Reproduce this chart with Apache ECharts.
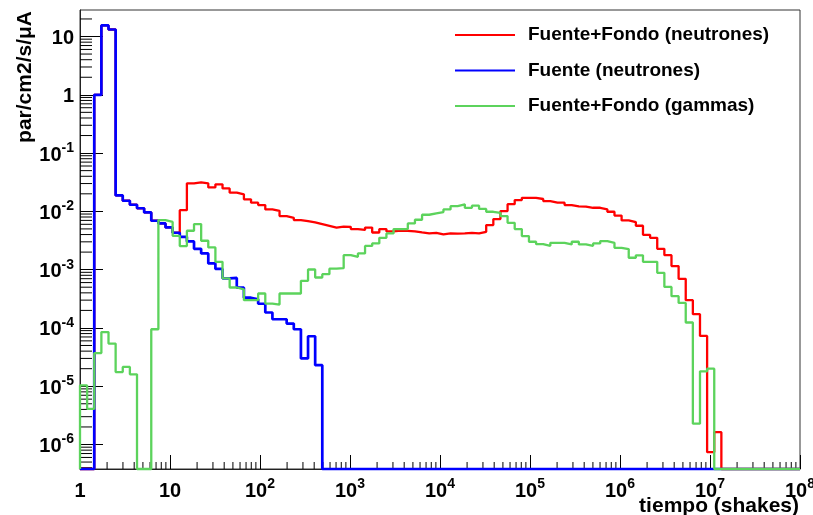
<!DOCTYPE html>
<html>
<head>
<meta charset="utf-8">
<script src="https://cdn.jsdelivr.net/npm/echarts@6/dist/echarts.min.js"></script>
<style>
  html, body { margin: 0; padding: 0; background: #fff; }
  #chart { width: 813px; height: 515px; }
</style>
</head>
<body>
<div id="chart"></div>
<script>
// Time histogram: bin edges grow by a constant factor starting at 1 shake
const binRatio = 1.2;
const xMin = 1, xMax = 1e8;
const yMin = 3.8e-7, yMax = 28.5;

const seriesNames = ['Fuente+Fondo (neutrones)', 'Fuente (neutrones)', 'Fuente+Fondo (gammas)'];
const seriesColors = ['#ff0000', '#0000ff', '#5cd35c'];
const seriesWidths = [2.3, 2.7, 2.3];

// Bin contents (par/cm2/s/uA); 0 marks an empty bin
const fuenteFondoNeutrones = [
  0, 0, 1.0, 15.5, 13.2, 0.0188, 0.0152, 0.0130, 0.0113, 0.0096,
  0.0069, 0.0062, 0.0053, 0.0043, 0.0105, 0.0303, 0.0315, 0.0303, 0.0258, 0.0291,
  0.0248, 0.0209, 0.0196, 0.0161, 0.0141, 0.0128, 0.0108, 0.0102, 0.0083, 0.00776,
  0.0071, 0.0068, 0.00647, 0.00605, 0.00566, 0.00527, 0.00548, 0.00543, 0.00497, 0.00481,
  0.00527, 0.00434, 0.00497, 0.00453, 0.00468, 0.00464, 0.00453, 0.00435, 0.00419, 0.00429,
  0.00402, 0.00419, 0.00416, 0.00419, 0.00429, 0.00419, 0.00446, 0.00582, 0.00738, 0.0101,
  0.0133, 0.0156, 0.0171, 0.0171, 0.0163, 0.0150, 0.0141, 0.0141, 0.0128, 0.0122,
  0.0121, 0.01153, 0.01153, 0.01086, 0.00984, 0.00847, 0.0070, 0.00655, 0.00566, 0.00396,
  0.00351, 0.00228, 0.00177, 0.00115, 6.95e-4, 2.99e-4, 1.72e-4, 7.3e-5, 7.4e-7, 1.63e-6
];

const fuenteNeutrones = [
  0, 0, 1.0, 15.5, 13.2, 0.0188, 0.0152, 0.0130, 0.0113, 0.0096,
  0.0069, 0.0062, 0.0053, 0.0043, 0.00366, 0.00305, 0.00228, 0.00190, 0.00128, 0.00103,
  7.1e-4, 7.2e-4, 4.9e-4, 3.3e-4, 3.1e-4, 2.6e-4, 1.84e-4, 1.41e-4, 1.41e-4, 1.19e-4,
  9.5e-5, 3.0e-5, 7.2e-5, 2.3e-5
];

const fuenteFondoGammas = [
  1.03e-5, 4.1e-6, 3.7e-5, 8.5e-5, 5.4e-5, 1.75e-5, 2.14e-5, 1.6e-5, 0, 0,
  9.5e-5, 7.1e-3, 6.6e-3, 3.8e-3, 2.54e-3, 4.65e-3, 6.05e-3, 3.13e-3, 2.41e-3, 1.36e-3,
  7.06e-4, 4.94e-4, 4.57e-4, 2.99e-4, 2.99e-4, 3.9e-4, 2.62e-4, 2.52e-4, 3.9e-4, 3.9e-4,
  3.9e-4, 6.43e-4, 1.007e-3, 7.34e-4, 8.37e-4, 1.04e-3, 1.06e-3, 1.77e-3, 1.66e-3, 1.90e-3,
  2.55e-3, 2.82e-3, 3.51e-3, 4.19e-3, 4.97e-3, 4.97e-3, 6.22e-3, 7.18e-3, 8.75e-3, 9.24e-3,
  9.73e-3, 1.08e-2, 1.23e-2, 1.32e-2, 1.15e-2, 1.25e-2, 1.10e-2, 9.84e-3, 9.46e-3, 8.3e-3,
  6.37e-3, 4.97e-3, 3.77e-3, 3.01e-3, 2.74e-3, 2.56e-3, 2.89e-3, 2.89e-3, 2.71e-3, 3.01e-3,
  2.71e-3, 2.56e-3, 2.82e-3, 3.09e-3, 2.89e-3, 2.37e-3, 2.25e-3, 1.60e-3, 1.76e-3, 1.36e-3,
  1.36e-3, 8.81e-4, 5.06e-4, 3.51e-4, 2.69e-4, 1.24e-4, 2.28e-6, 1.80e-5, 2.0e-5
];

const seriesValues = [fuenteFondoNeutrones, fuenteNeutrones, fuenteFondoGammas];

// Outline of a histogram: horizontal segment per bin, empty bins on the frame floor
function histogramOutline(values) {
  const pts = [[xMin, yMin]];
  for (let k = 0; k < values.length; k++) {
    const lo = Math.pow(binRatio, k);
    const hi = Math.pow(binRatio, k + 1);
    const v = values[k] > 0 ? values[k] : yMin;
    pts.push([lo, v], [hi, v]);
  }
  pts.push([Math.pow(binRatio, values.length), yMin], [xMax, yMin]);
  return pts;
}

// Minor tick positions (2..9 within each decade)
function minorTicks(lo, hi) {
  const out = [];
  for (let e = Math.floor(Math.log10(lo)); e <= Math.ceil(Math.log10(hi)); e++) {
    for (let m = 2; m <= 9; m++) {
      const v = m * Math.pow(10, e);
      if (v > lo && v < hi) out.push(v);
    }
  }
  return out;
}
const xMinor = minorTicks(xMin, xMax);
const yMinor = minorTicks(yMin, yMax);

const fontFamily = '"Liberation Sans", Arial, Helvetica, sans-serif';

function powerLabel(v) {
  const lg = Math.log10(v);
  const e = Math.round(lg);
  if (Math.abs(lg - e) > 1e-6) return '';
  if (e === 0) return '{b|1}';
  if (e === 1) return '{b|10}';
  return '{b|10}{s|' + e + '}';
}
const labelRich = {
  b: { fontSize: 20, fontWeight: 'bold', fontFamily: fontFamily, color: '#000', lineHeight: 24, verticalAlign: 'bottom' },
  s: { fontSize: 14, fontWeight: 'bold', fontFamily: fontFamily, color: '#000', lineHeight: 14, verticalAlign: 'top' }
};

const chart = echarts.init(document.getElementById('chart'), null, { renderer: 'canvas' });

const lineSeries = seriesNames.map((name, i) => ({
  name: name,
  type: 'line',
  data: histogramOutline(seriesValues[i]),
  showSymbol: false,
  symbol: 'none',
  clip: false,
  color: seriesColors[i],
  itemStyle: { color: seriesColors[i] },
  lineStyle: { color: seriesColors[i], width: seriesWidths[i] },
  z: 3
}));

const tickSeries = [
  {
    type: 'custom',
    silent: true,
    z: 1,
    data: xMinor.map(v => [v, yMin]),
    renderItem: function (params, api) {
      const p = api.coord([api.value(0), yMin]);
      return { type: 'line', shape: { x1: p[0], y1: p[1], x2: p[0], y2: p[1] - 7 },
               style: { stroke: '#000', lineWidth: 1 } };
    }
  },
  {
    type: 'custom',
    silent: true,
    z: 1,
    data: yMinor.map(v => [xMin, v]),
    renderItem: function (params, api) {
      const p = api.coord([xMin, api.value(1)]);
      return { type: 'line', shape: { x1: p[0], y1: p[1], x2: p[0] + 12, y2: p[1] },
               style: { stroke: '#000', lineWidth: 1 } };
    }
  }
];

chart.setOption({
  animation: false,
  backgroundColor: '#fff',
  grid: {
    left: 80, right: 13, top: 10, bottom: 46,
    containLabel: false, outerBoundsMode: 'none',
    show: true, borderColor: '#333', borderWidth: 1, backgroundColor: 'transparent'
  },
  legend: {
    data: seriesNames,
    orient: 'vertical',
    left: 455,
    top: 24,
    padding: 0,
    icon: 'rect',
    itemWidth: 60,
    itemHeight: 2,
    itemGap: 13.5,
    selectedMode: false,
    textStyle: { fontSize: 19, fontWeight: 'bold', fontFamily: fontFamily, color: '#000', lineHeight: 22, padding: [0, 0, 0, 8] }
  },
  xAxis: {
    type: 'log',
    logBase: 10,
    min: xMin,
    max: xMax,
    splitLine: { show: false },
    axisLine: { show: true, onZero: false, lineStyle: { color: '#222', width: 1 } },
    axisTick: { show: true, inside: true, length: 14, lineStyle: { color: '#000', width: 1 } },
    minorTick: { show: false },
    axisLabel: { formatter: powerLabel, rich: labelRich, margin: 8, showMinLabel: true, showMaxLabel: true, hideOverlap: false }
  },
  yAxis: {
    type: 'log',
    logBase: 10,
    min: yMin,
    max: yMax,
    splitLine: { show: false },
    axisLine: { show: true, onZero: false, lineStyle: { color: '#222', width: 1 } },
    axisTick: { show: true, inside: true, length: 23, lineStyle: { color: '#000', width: 1 } },
    minorTick: { show: false },
    axisLabel: { formatter: powerLabel, rich: labelRich, margin: 6, showMinLabel: false, showMaxLabel: false }
  },
  graphic: [
    {
      type: 'text',
      x: 25, y: 11,
      rotation: Math.PI / 2,
      style: { text: 'par/cm2/s/\u03bcA', font: 'bold 21px ' + fontFamily, fill: '#000', align: 'right', verticalAlign: 'middle' }
    },
    {
      type: 'text',
      x: 799, y: 506,
      style: { text: 'tiempo (shakes)', font: 'bold 21px ' + fontFamily, fill: '#000', align: 'right', verticalAlign: 'middle' }
    }
  ],
  series: tickSeries.concat(lineSeries)
});
</script>
</body>
</html>
